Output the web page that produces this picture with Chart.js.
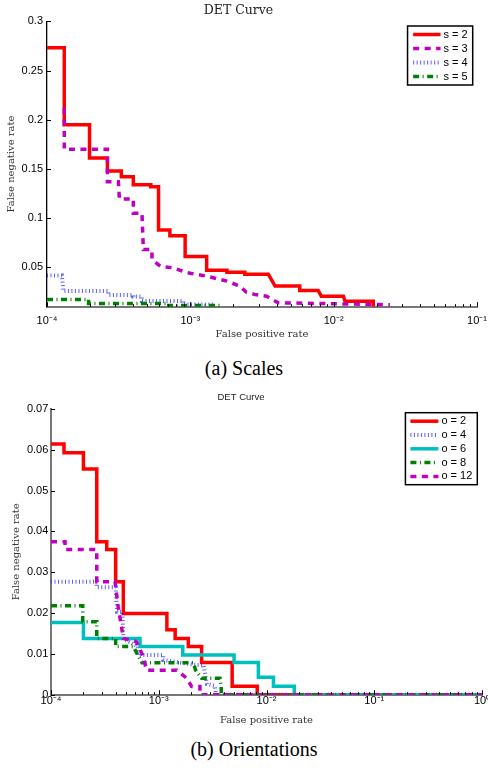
<!DOCTYPE html>
<html>
<head>
<meta charset="utf-8">
<title>DET Curve</title>
<script src="https://cdn.jsdelivr.net/npm/chart.js@4.4.0/dist/chart.umd.min.js"></script>
<style>
  html, body { margin: 0; padding: 0; background: #fff; }
  body { width: 488px; height: 770px; overflow: hidden; position: relative; }
  canvas { position: absolute; left: 0; }
  #scalesChart { top: 0; }
  #orientChart { top: 385px; }
  .caption {
    position: absolute; white-space: nowrap; transform: translateX(-50%);
    font-family: "Liberation Serif", "Times New Roman", serif; font-size: 20px; line-height: 23px; color: #000;
  }
</style>
</head>
<body>
<canvas id="scalesChart" width="500" height="350"></canvas>
<div class="caption" style="left:244px; top:357px">(a) Scales</div>
<canvas id="orientChart" width="500" height="345"></canvas>
<div class="caption" style="left:254px; top:738px">(b) Orientations</div>

<script>
// (a) Scales: [false positive rate, false negative rate]
const s2 = [[1e-4,0.273],[1.32e-4,0.273],[1.32e-4,0.195],[1.98e-4,0.195],[1.98e-4,0.161],[2.64e-4,0.161],
  [2.64e-4,0.148],[3.3e-4,0.148],[3.3e-4,0.142],[4.0e-4,0.142],[4.0e-4,0.134],[5.3e-4,0.134],[5.3e-4,0.132],
  [6.0e-4,0.132],[6.0e-4,0.088],[7.2e-4,0.088],[7.2e-4,0.082],[9.2e-4,0.082],[9.2e-4,0.061],[1.3e-3,0.061],
  [1.3e-3,0.047],[1.8e-3,0.047],[1.8e-3,0.045],[2.4e-3,0.045],[2.4e-3,0.043],[3.5e-3,0.043],[3.9e-3,0.031],
  [5.8e-3,0.031],[5.8e-3,0.0265],[7.8e-3,0.0265],[8.2e-3,0.0207],[1.17e-2,0.0207],[1.2e-2,0.0156],
  [1.89e-2,0.0156],[1.89e-2,0.01]];
const s3 = [[1.32e-4,0.212],[1.32e-4,0.17],[2.64e-4,0.17],[2.64e-4,0.137],[3.15e-4,0.137],[3.2e-4,0.1195],
  [4.0e-4,0.1195],[4.0e-4,0.105],[4.6e-4,0.105],[4.7e-4,0.068],[5.4e-4,0.068],[5.4e-4,0.058],[6.2e-4,0.051],
  [7.6e-4,0.0495],[9.5e-4,0.0445],[1.3e-3,0.041],[1.8e-3,0.036],[2.2e-3,0.031],[2.45e-3,0.025],[2.8e-3,0.0225],
  [3.4e-3,0.0207],[4.1e-3,0.014],[2.47e-2,0.012]];
const s4 = [[1e-4,0.0417],[1.27e-4,0.0417],[1.3e-4,0.026],[2.68e-4,0.026],[2.68e-4,0.0219],[4.0e-4,0.0219],
  [4.0e-4,0.0203],[4.6e-4,0.0203],[4.6e-4,0.0159],[8.95e-4,0.0159],[8.95e-4,0.0123],[1.45e-3,0.0123]];
const s5 = [[1e-4,0.0174],[1.95e-4,0.0174],[1.95e-4,0.0133],[6.86e-4,0.0133],[6.86e-4,0.0113],[1.61e-3,0.0113]];

// (b) Orientations
const o2 = [[1e-4,0.0614],[1.32e-4,0.0614],[1.32e-4,0.0593],[2.0e-4,0.0593],[2.0e-4,0.0553],[2.66e-4,0.0553],
  [2.66e-4,0.0375],[3.29e-4,0.0375],[3.29e-4,0.0356],[3.98e-4,0.0356],[3.98e-4,0.0277],[4.69e-4,0.0277],
  [4.69e-4,0.0199],[1.19e-3,0.0199],[1.19e-3,0.0159],[1.42e-3,0.0159],[1.42e-3,0.0138],[1.88e-3,0.0138],
  [1.88e-3,0.0118],[2.5e-3,0.0118],[2.5e-3,0.0079],[4.8e-3,0.0079],[4.8e-3,0.0021],[8.2e-3,0.0021],
  [8.2e-3,0],[1,0]];
const o4 = [[1e-4,0.0277],[2.66e-4,0.0277],[2.66e-4,0.0263],[3.98e-4,0.0263],[4.1e-4,0.0203],[4.6e-4,0.0203],
  [4.7e-4,0.0138],[6.4e-4,0.0118],[6.4e-4,0.0097],[1.1e-3,0.0097],[1.1e-3,0.0085],[2.2e-3,0.0073],
  [2.6e-3,0.0073],[2.8e-3,0.0026],[3.3e-3,0.0022],[3.4e-3,0],[1,0]];
const o6 = [[1e-4,0.0177],[2.0e-4,0.0177],[2.0e-4,0.0138],[6.7e-4,0.0138],[6.7e-4,0.0118],[1.67e-3,0.0118],
  [1.67e-3,0.0097],[5.0e-3,0.0097],[5.0e-3,0.0079],[8.4e-3,0.0079],[8.4e-3,0.0043],[1.16e-2,0.0043],
  [1.16e-2,0.0021],[1.81e-2,0.0021],[1.81e-2,0],[1,0]];
const o8 = [[1e-4,0.0218],[1.97e-4,0.0218],[1.97e-4,0.0179],[2.66e-4,0.0179],[2.66e-4,0.0138],[3.98e-4,0.0138],
  [3.98e-4,0.0118],[5.8e-4,0.0118],[7.0e-4,0.0078],[2.1e-3,0.0078],[2.2e-3,0.006],[2.5e-3,0.004],
  [3.7e-3,0.004],[3.8e-3,0.002],[3.8e-3,0],[1,0]];
const o12 = [[1e-4,0.0375],[1.35e-4,0.0375],[1.35e-4,0.0356],[2.66e-4,0.0356],[2.66e-4,0.0277],[3.93e-4,0.0277],
  [4.2e-4,0.0216],[4.69e-4,0.0138],[6.2e-4,0.013],[7.2e-4,0.0093],[7.7e-4,0.006],[1.47e-3,0.006],
  [1.82e-3,0.004],[2.02e-3,0.002],[2.41e-3,0.002],[2.41e-3,0],[1,0]];

// axes: decade exponents for x, tick values for y
const xExpScales = [-4, -3, -2, -1];
const xExpOrient = [-4, -3, -2, -1, 0];
const yTicksScales = [0.05, 0.1, 0.15, 0.2, 0.25, 0.3];
const yTicksOrient = [0, 0.01, 0.02, 0.03, 0.04, 0.05, 0.06, 0.07];

const SUP = {'-': '\u207B', '0': '\u2070', '1': '\u00B9', '2': '\u00B2', '3': '\u00B3', '4': '\u2074'};

// line styles (matlab-ish)
const RED = {color: '#ff0000', width: 3.5, dash: []};
const MAGENTA = {color: '#c000c0', width: 3.5, dash: [6, 5.5]};
const BLUE = {color: 'rgba(40,40,255,0.75)', width: 4, dash: [1, 2.5]};
const GREEN = {color: '#008000', width: 3.5, dash: [6, 3.5, 1, 3.5]};
const CYAN = {color: '#00bfbf', width: 3.5, dash: []};

function logTicks(exps) {
  var out = [];
  exps.forEach(function(e, i) {
    if (i === exps.length - 1) { out.push({value: Math.pow(10, e), major: true}); return; }
    for (var m = 1; m <= 9; m++) out.push({value: m * Math.pow(10, e), major: m === 1});
  });
  return out;
}

// inward tick marks, like matlab
const innerTicks = {
  id: 'innerTicks',
  afterDraw(chart) {
    const {ctx, chartArea: a, scales: {x, y}} = chart;
    ctx.save();
    ctx.strokeStyle = '#000';
    ctx.lineWidth = 1;
    ctx.beginPath();
    x.ticks.forEach(function(t) {
      var px = Math.round(x.getPixelForValue(t.value)) + 0.5;
      ctx.moveTo(px, a.bottom);
      ctx.lineTo(px, a.bottom - (t.major ? 4.5 : 2.5));
    });
    y.ticks.forEach(function(t) {
      var py = Math.round(y.getPixelForValue(t.value)) + 0.5;
      ctx.moveTo(a.left, py);
      ctx.lineTo(a.left + 4, py);
    });
    ctx.stroke();
    ctx.restore();
  }
};

// boxed legend inside the top right corner
const boxLegend = {
  id: 'boxLegend',
  afterDraw(chart, args, opts) {
    const ctx = chart.ctx, a = chart.chartArea, sets = chart.data.datasets;
    ctx.save();
    ctx.font = opts.font;
    var textW = Math.max.apply(null, sets.map(function(d) { return ctx.measureText(d.label).width; }));
    var w = opts.inset + opts.sample + 3 + textW + 5;
    var h = sets.length * opts.rowH + 3;
    var left = a.right - opts.right - w, top = a.top + opts.top;
    ctx.fillStyle = '#fff';
    ctx.fillRect(left, top, w, h);
    ctx.strokeStyle = '#000';
    ctx.lineWidth = 1.5;
    ctx.strokeRect(left, top, w, h);
    sets.forEach(function(d, i) {
      var cy = top + 8.5 + i * opts.rowH;
      ctx.beginPath();
      ctx.setLineDash(d.borderDash);
      ctx.strokeStyle = d.borderColor;
      ctx.lineWidth = d.borderWidth;
      ctx.moveTo(left + opts.inset, cy);
      ctx.lineTo(left + opts.inset + opts.sample, cy);
      ctx.stroke();
      ctx.setLineDash([]);
      ctx.fillStyle = '#000';
      ctx.textBaseline = 'middle';
      ctx.fillText(d.label, left + opts.inset + opts.sample + 3, cy);
    });
    ctx.restore();
  }
};

function detChart(id, cfg) {
  var n = cfg.series.length;
  return new Chart(document.getElementById(id), {
    type: 'line',
    data: {
      datasets: cfg.series.map(function(s, i) {
        return {
          label: s.label,
          data: s.points.map(function(p) { return {x: p[0], y: p[1]}; }),
          borderColor: s.style.color,
          borderWidth: s.style.width,
          borderDash: s.style.dash,
          pointRadius: 0,
          tension: 0,
          fill: false,
          order: n - i
        };
      })
    },
    options: {
      responsive: false,
      animation: false,
      devicePixelRatio: 1,
      layout: {padding: cfg.padding},
      plugins: {
        legend: {display: false},
        tooltip: {enabled: false},
        title: {display: true, text: cfg.title, font: cfg.titleFont, color: '#222', padding: cfg.titlePad},
        boxLegend: cfg.legend
      },
      scales: {
        x: {
          type: 'logarithmic',
          min: Math.pow(10, cfg.xExp[0]),
          max: Math.pow(10, cfg.xExp[cfg.xExp.length - 1]),
          afterBuildTicks: function(scale) { scale.ticks = logTicks(cfg.xExp); },
          afterFit: function(scale) { scale.height = cfg.xHeight; },
          grid: {display: false, drawTicks: false, tickLength: 0},
          border: {display: true, color: '#777', width: 2},
          ticks: {
            autoSkip: false, maxRotation: 0, padding: cfg.xTickPad, color: '#000',
            font: {family: 'Liberation Sans, Arial, sans-serif', size: 11},
            callback: function(value, index, ticks) {
              if (!ticks[index].major) return '';
              var e = String(Math.round(Math.log10(value)));
              return '10' + e.split('').map(function(c) { return SUP[c]; }).join('');
            }
          },
          title: {display: true, text: 'False positive rate', color: '#333',
            font: {family: 'DejaVu Serif, serif', size: 10}, padding: {top: 0, bottom: cfg.xTitlePad}}
        },
        y: {
          type: 'linear',
          min: cfg.yMin,
          max: cfg.yMax,
          afterBuildTicks: function(scale) { scale.ticks = cfg.yTicks.map(function(v) { return {value: v}; }); },
          afterFit: function(scale) { scale.width = cfg.yWidth; },
          grid: {display: false, drawTicks: false, tickLength: 0},
          border: {display: true, color: cfg.yBorder, width: cfg.yBorderWidth},
          ticks: {
            padding: cfg.yTickPad, color: '#000',
            font: {family: 'Liberation Sans, Arial, sans-serif', size: 11},
            callback: function(value) { return String(+value.toFixed(4)); }
          },
          title: {display: true, text: 'False negative rate', color: '#333',
            font: {family: 'DejaVu Serif, serif', size: 10}, padding: {top: cfg.yTitlePad, bottom: 0}}
        }
      }
    },
    plugins: [innerTicks, boxLegend]
  });
}

detChart('scalesChart', {
  series: [
    {label: 's = 2', points: s2, style: RED},
    {label: 's = 3', points: s3, style: MAGENTA},
    {label: 's = 4', points: s4, style: BLUE},
    {label: 's = 5', points: s5, style: GREEN}
  ],
  title: 'DET Curve',
  titleFont: {family: 'DejaVu Serif, serif', size: 12.5, weight: 'normal'},
  titlePad: {top: 3.5, bottom: 2.8},
  padding: {left: 0, right: 23, top: 0, bottom: 0},
  xExp: xExpScales, xHeight: 43.3, xTickPad: 8, xTitlePad: 10,
  yMin: 0.01, yMax: 0.3, yTicks: yTicksScales, yWidth: 47, yTickPad: 4, yTitlePad: 5,
  yBorder: '#000', yBorderWidth: 1.3,
  legend: {font: '11px "Liberation Sans", Arial, sans-serif', right: 4.3, top: 4.7, rowH: 14, inset: 5.6, sample: 27.4}
});

detChart('orientChart', {
  series: [
    {label: 'o = 2', points: o2, style: RED},
    {label: 'o = 4', points: o4, style: BLUE},
    {label: 'o = 6', points: o6, style: CYAN},
    {label: 'o = 8', points: o8, style: GREEN},
    {label: 'o = 12', points: o12, style: MAGENTA}
  ],
  title: 'DET Curve',
  titleFont: {family: 'Liberation Sans, Arial, sans-serif', size: 9.5, weight: 'normal'},
  titlePad: {top: 6.3, bottom: 6.3},
  padding: {left: 0, right: 18, top: 0, bottom: 0},
  xExp: xExpOrient, xHeight: 35.3, xTickPad: 0, xTitlePad: 3.3,
  yMin: 0, yMax: 0.07, yTicks: yTicksOrient, yWidth: 51, yTickPad: 2.7, yTitlePad: 10,
  yBorder: '#777', yBorderWidth: 2,
  legend: {font: '11px "Liberation Sans", Arial, sans-serif', right: 4.7, top: 3.7, rowH: 13.8, inset: 5, sample: 28}
});
</script>
</body>
</html>
